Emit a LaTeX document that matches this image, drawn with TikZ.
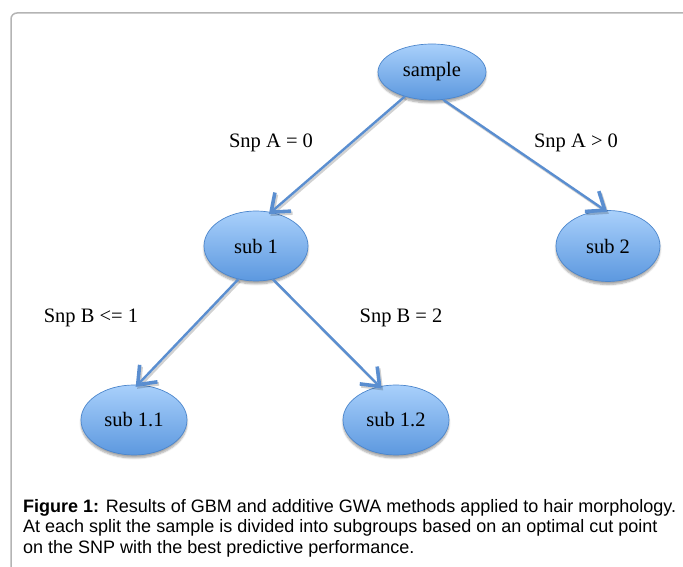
\documentclass[tikz,border=0pt]{standalone}
\usepackage{fontspec}
\setmainfont{Liberation Serif}
\newfontfamily\capfont{Liberation Sans}
\usetikzlibrary{shapes.geometric,calc,shadows.blur}
\definecolor{framegray}{HTML}{B4B4B4}
\definecolor{leafhi}{HTML}{A9D0FB}
\definecolor{leaflo}{HTML}{5C98DF}
\definecolor{leafrim}{HTML}{4C86CC}
\definecolor{splitblue}{HTML}{5A8ED0}
\newcommand{\treefont}{\fontsize{20.5}{24}\selectfont}
\newcommand{\capsize}{\fontsize{18}{21}\selectfont}
%split line with an open chevron at the child, plus a soft shadow
\newcommand{\splitarrow}[2]{%
  \begin{scope}[transform canvas={xshift=1.5pt,yshift=-2pt}]
    \draw[split,black,opacity=0.18] (#1) -- (#2);
    \draw[splithead,black,opacity=0.18] ($(#2)!20pt!38:(#1)$) -- (#2) -- ($(#2)!20pt!-38:(#1)$);
  \end{scope}
  \draw[split] (#1) -- (#2);
  \draw[splithead] ($(#2)!20pt!38:(#1)$) -- (#2) -- ($(#2)!20pt!-38:(#1)$);}

\begin{document}
\begin{tikzpicture}[x=1pt,y=1pt,
  leaf/.style={ellipse,draw=leafrim,line width=0.7pt,top color=leafhi,bottom color=leaflo,
    inner sep=0pt,font=\treefont,
    blur shadow={shadow xshift=0pt,shadow yshift=-3pt,shadow blur steps=6,shadow opacity=35}},
  split/.style={splitblue,line width=2.4pt,shorten >=2pt},
  splithead/.style={splitblue,line width=3.6pt,line join=miter},
  cut/.style={font=\treefont},
  capline/.style={anchor=base west,inner sep=0pt,font=\capfont\capsize}]
  \useasboundingbox (0,0) rectangle (683,567);

  %frame of the figure
  \draw[framegray,line width=1.5pt,rounded corners=6pt] (11,0) -- (11,554) -- (683,554);

  %tree nodes
  \node[leaf,minimum width=108,minimum height=56] (sample) at (432,495) {sample};
  \node[leaf,minimum width=104,minimum height=70] (sub1) at (256,321) {sub 1};
  \node[leaf,minimum width=104,minimum height=71] (sub2) at (608,321) {sub 2};
  \node[leaf,minimum width=106,minimum height=70] (sub11) at (134,147) {sub 1.1};
  \node[leaf,minimum width=106,minimum height=70] (sub12) at (396,147) {sub 1.2};

  %splits
  \splitarrow{sample.222}{sub1.66}
  \splitarrow{sample.292}{sub2.95}
  \splitarrow{sub1.242}{sub11.84}
  \splitarrow{sub1.297}{sub12.116}

  %cut points
  \node[cut] (cutA0) at (271,424) {Snp A = 0};
  \node[cut] (cutA1) at (576,424) {Snp A > 0};
  \node[cut] (cutB1) at (91,249) {Snp B <= 1};
  \node[cut] (cutB2) at (401,249) {Snp B = 2};

  %caption
  \node[capline] (cap1) at (23,54.5) {\textbf{Figure 1:} Results of GBM and additive GWA methods applied to hair morphology.};
  \node[capline] (cap2) at (23,34) {At each split the sample is divided into subgroups based on an optimal cut point};
  \node[capline] (cap3) at (23,13.5) {on the SNP with the best predictive performance.};
\end{tikzpicture}
\end{document}
